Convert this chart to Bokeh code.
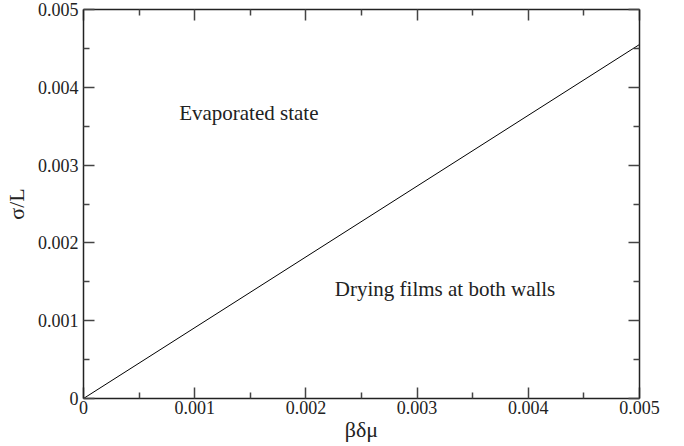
from bokeh.plotting import figure
from bokeh.models import Range1d, FixedTicker, LinearAxis, Label
from bokeh.embed import file_html
from bokeh.resources import INLINE

x_vals = [0.0, 0.005]
y_vals = [0.0, 0.00455]
major_ticks = [0.0, 0.001, 0.002, 0.003, 0.004, 0.005]
minor_ticks = [0.0005, 0.0015, 0.0025, 0.0035, 0.0045]
tick_labels = {0.0: "0", 0.001: "0.001", 0.002: "0.002", 0.003: "0.003", 0.004: "0.004", 0.005: "0.005"}
x_title = "βδμ"
y_title = "σ/L"
region_labels = ["Evaporated state", "Drying films at both walls"]
label_x = [0.00086, 0.00226]
label_y = [0.00367, 0.00141]

FONT = "Liberation Serif"

p = figure(width=684, height=446, output_backend="svg", toolbar_location=None,
           x_range=Range1d(0, 0.005), y_range=Range1d(0, 0.005),
           x_axis_location=None, y_axis_location=None,
           min_border_left=81, min_border_right=45, min_border_top=9, min_border_bottom=48)
p.grid.visible = False
p.outline_line_color = None
p.background_fill_color = "white"
p.border_fill_color = "white"

def make_axis(show_labels, label=None):
    ax = LinearAxis(ticker=FixedTicker(ticks=major_ticks, minor_ticks=minor_ticks))
    ax.major_tick_in = 11
    ax.major_tick_out = 0
    ax.minor_tick_in = 6
    ax.minor_tick_out = 0
    ax.axis_line_width = 1.5
    ax.axis_line_color = "#222222"
    ax.major_tick_line_color = "#444444"
    ax.minor_tick_line_color = "#444444"
    ax.major_tick_line_width = 1.5
    ax.minor_tick_line_width = 1.5
    if show_labels:
        ax.major_label_overrides = tick_labels
        ax.major_label_text_font = FONT
        ax.major_label_text_font_size = "18px"
        ax.major_label_text_color = "#222222"
        ax.axis_label = label
        ax.axis_label_text_font = FONT
        ax.axis_label_text_font_size = "22px"
        ax.axis_label_text_font_style = "normal"
        ax.axis_label_text_color = "#222222"
    else:
        ax.major_label_text_font_size = "0px"
        ax.major_label_text_alpha = 0
    return ax

bottom = make_axis(True, x_title)
bottom.major_label_standoff = 2
bottom.axis_label_standoff = 0
left = make_axis(True, y_title)
left.major_label_standoff = 5
left.axis_label_standoff = 6
top = make_axis(False)
right = make_axis(False)
p.add_layout(bottom, "below")
p.add_layout(left, "left")
p.add_layout(top, "above")
p.add_layout(right, "right")

p.line(x_vals, y_vals, line_color="black", line_width=1)

for tx, ty, t in zip(label_x, label_y, region_labels):
    p.add_layout(Label(x=tx, y=ty, text=t, text_font=FONT, text_font_size="21px",
                       text_color="#222222", text_baseline="alphabetic"))

open("out.html", "w").write(file_html(p, INLINE))
